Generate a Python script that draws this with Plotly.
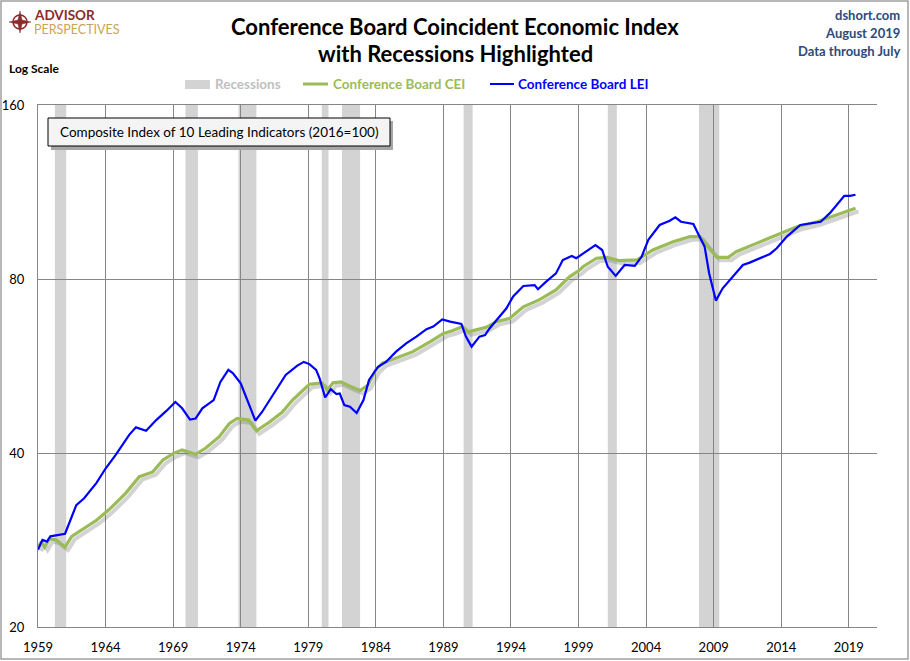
import plotly.graph_objects as go

# Canvas / plot-area geometry in pixels
W, H = 910, 661
L, R, T, B = 38, 33, 105, 34
PW, PH = W - L - R, H - T - B


def px(x):
    # pixel x -> paper x
    return (x - L) / PW


def py(y):
    # pixel y -> paper y
    return (H - B - y) / PH


# Conference Board Leading Economic Index (2016=100)
lei_dates = [
    "1959-01", "1959-05", "1959-09", "1959-12", "1961-01", "1961-05", "1961-11",
    "1962-06", "1963-05", "1964-01", "1964-10", "1965-10", "1966-04", "1967-01",
    "1967-10", "1968-07", "1969-03", "1969-09", "1970-04", "1970-09", "1971-03",
    "1972-01", "1972-07", "1973-02", "1973-06", "1974-01", "1974-07", "1975-02",
    "1975-08", "1976-03", "1976-10", "1977-05", "1978-03", "1978-09", "1979-02",
    "1979-05", "1979-08", "1979-11", "1980-04", "1980-09", "1981-02", "1981-05",
    "1981-09", "1982-02", "1982-08", "1983-02", "1983-07", "1984-03", "1984-10",
    "1985-07", "1986-04", "1987-01", "1987-10", "1988-04", "1988-12", "1989-07",
    "1990-05", "1990-09", "1991-02", "1991-09", "1992-02", "1992-06", "1992-12",
    "1993-09", "1994-03", "1994-12", "1995-10", "1996-01", "1996-08", "1997-05",
    "1997-11", "1998-07", "1998-11", "1999-08", "2000-04", "2000-10", "2001-03",
    "2001-10", "2002-06", "2003-03", "2003-09", "2004-03", "2005-01", "2005-10",
    "2006-03", "2006-08", "2007-07", "2007-11", "2008-05", "2008-09", "2009-03",
    "2009-09", "2010-06", "2011-03", "2011-09", "2012-07", "2013-03", "2013-09",
    "2014-06", "2015-06", "2016-03", "2016-12", "2017-08", "2018-02", "2018-09",
    "2019-02", "2019-07",
]
lei_values = [
    27.2, 28.3, 28.1, 28.7, 29.0, 30.4, 32.5,
    33.4, 35.5, 37.6, 39.7, 43.0, 44.3, 43.7,
    45.6, 47.3, 49.0, 47.8, 45.7, 45.9, 47.8,
    49.4, 53.1, 55.7, 55.0, 52.8, 49.4, 45.5,
    47.1, 49.4, 52.1, 54.6, 56.6, 57.5, 57.0,
    56.4, 55.7, 53.9, 49.9, 51.6, 50.6, 50.7,
    48.4, 48.1, 46.9, 49.4, 53.5, 56.4, 57.5,
    59.9, 61.9, 63.6, 65.5, 66.2, 68.1, 67.5,
    66.9, 63.6, 61.1, 63.6, 64.0, 65.7, 67.9,
    71.2, 74.6, 77.8, 78.1, 76.8, 79.1, 81.8,
    86.3, 87.7, 86.9, 89.2, 91.6, 89.8, 84.0,
    81.0, 84.6, 84.3, 87.4, 93.5, 99.2, 100.9,
    102.3, 100.5, 99.6, 96.0, 91.0, 81.8, 73.4,
    77.1, 80.7, 84.6, 85.4, 87.2, 88.4, 90.4,
    94.7, 99.2, 99.9, 100.5, 103.9, 107.4, 111.4,
    111.4, 111.9,
]

# Conference Board Coincident Economic Index
cei_dates = [
    "1959-01", "1959-04", "1959-07", "1959-11", "1960-05", "1961-01", "1961-07",
    "1962-05", "1963-05", "1964-04", "1965-07", "1966-07", "1967-07", "1968-04",
    "1969-01", "1969-09", "1970-09", "1971-06", "1972-06", "1973-03", "1973-10",
    "1974-08", "1975-03", "1976-03", "1977-02", "1977-11", "1979-02", "1980-01",
    "1980-06", "1980-11", "1981-06", "1982-02", "1982-11", "1983-06", "1984-01",
    "1984-07", "1985-07", "1986-10", "1988-01", "1989-01", "1989-09", "1990-06",
    "1990-11", "1991-06", "1992-03", "1992-12", "1993-12", "1994-12", "1996-02",
    "1997-05", "1998-05", "1999-02", "1999-05", "2000-05", "2001-02", "2002-01",
    "2003-05", "2004-07", "2006-01", "2007-04", "2008-01", "2008-08", "2009-04",
    "2010-02", "2010-09", "2012-03", "2013-09", "2015-03", "2016-09", "2018-02",
    "2019-07",
]
cei_values = [
    27.4, 28.1, 27.5, 28.4, 28.3, 27.5, 28.7,
    29.5, 30.6, 31.9, 34.1, 36.4, 37.1, 38.9,
    39.9, 40.5, 39.8, 40.8, 42.7, 45.0, 45.9,
    45.6, 43.7, 45.3, 47.1, 49.4, 52.6, 52.9,
    51.4, 52.9, 53.1, 52.2, 51.3, 52.4, 55.7,
    57.2, 58.3, 59.9, 62.3, 64.4, 65.1, 66.2,
    64.8, 65.3, 66.0, 67.5, 68.4, 71.6, 73.6,
    76.6, 80.7, 82.9, 84.0, 86.9, 87.2, 86.1,
    86.3, 89.8, 92.8, 94.7, 94.7, 91.0, 87.2,
    87.2, 89.2, 92.2, 95.3, 98.5, 100.5, 103.2,
    106.0,
]

# NBER recessions
rec_start = ["1960-04-01", "1969-12-01", "1973-11-01", "1980-01-01",
             "1981-07-01", "1990-07-01", "2001-03-01", "2007-12-01"]
rec_end = ["1961-02-01", "1970-11-01", "1975-03-01", "1980-07-01",
           "1982-11-01", "1991-03-01", "2001-11-01", "2009-06-01"]

y_ticks = [20, 40, 80, 160]

CEI_COLOR = "#9BBB59"
LEI_COLOR = "#0000FF"
REC_COLOR = "#D3D3D3"
GRID = "#868686"
FONT = "Lato"

X_RANGE = ["1959-01-01", "2021-02-01"]
Y_RANGE = [1.30103, 2.20412]
# axis ranges nudged so the same CEI line lands ~3px right/down (drop shadow)
X_SHADOW = ["1958-10-12", "2020-11-13"]
Y_SHADOW = [1.30622, 2.20931]

fig = go.Figure()

# shadow of the CEI line on a hidden, slightly shifted overlay axis pair
fig.add_trace(go.Scatter(
    x=cei_dates, y=cei_values, mode="lines", xaxis="x2", yaxis="y2",
    line=dict(color="rgba(110,110,110,0.30)", width=4), hoverinfo="skip",
))
fig.add_trace(go.Scatter(
    x=cei_dates, y=cei_values, mode="lines", xaxis="x3", yaxis="y3",
    line=dict(color=CEI_COLOR, width=3.2), name="Conference Board CEI",
))
fig.add_trace(go.Scatter(
    x=lei_dates, y=lei_values, mode="lines", xaxis="x3", yaxis="y3",
    line=dict(color=LEI_COLOR, width=2.2), name="Conference Board LEI",
))

# recession bands
for s, e in zip(rec_start, rec_end):
    fig.add_shape(type="rect", xref="x", yref="paper", x0=s, x1=e, y0=0, y1=1,
                  fillcolor=REC_COLOR, line_width=0, layer="below")

# outer frame of the image
fig.add_shape(type="rect", xref="paper", yref="paper",
              x0=px(1), x1=px(908), y0=py(659), y1=py(1),
              line=dict(color="#A0A0A0", width=1.5), fillcolor="rgba(0,0,0,0)")


def label(x, y, text, size=13, color="black", anchor="left"):
    fig.add_annotation(xref="paper", yref="paper", x=px(x), y=py(y),
                       xanchor=anchor, yanchor="middle", text=text, showarrow=False,
                       font=dict(family=FONT, size=size, color=color))


# note box with shadow
fig.add_shape(type="rect", xref="paper", yref="paper",
              x0=px(51), x1=px(393), y0=py(150), y1=py(121),
              fillcolor="#A6A6A6", line_width=0, layer="above")
fig.add_shape(type="rect", xref="paper", yref="paper",
              x0=px(48), x1=px(390), y0=py(146), y1=py(118),
              fillcolor="#F4F4F4", line=dict(color="black", width=1), layer="above")
label(219, 132, "Composite Index of 10 Leading Indicators (2016=100)", 13.5, anchor="center")

# custom legend
fig.add_shape(type="rect", xref="paper", yref="paper",
              x0=px(185), x1=px(210), y0=py(89), y1=py(80),
              fillcolor=REC_COLOR, line_width=0)
label(213, 84, "<b>Recessions</b>", 13.5, "#BFBFBF")
fig.add_shape(type="line", xref="paper", yref="paper",
              x0=px(303), x1=px(328), y0=py(84), y1=py(84),
              line=dict(color=CEI_COLOR, width=3))
label(331, 84, "<b>Conference Board CEI</b>", 13.5, CEI_COLOR)
fig.add_shape(type="line", xref="paper", yref="paper",
              x0=px(490), x1=px(514), y0=py(84), y1=py(84),
              line=dict(color=LEI_COLOR, width=2))
label(516, 84, "<b>Conference Board LEI</b>", 13.5, LEI_COLOR)

# title
label(455, 26, "<b>Conference Board Coincident Economic Index</b>", 22, anchor="center")
label(455, 53, "<b>with Recessions Highlighted</b>", 22, anchor="center")

# top-right credits
for i, txt in enumerate(["dshort.com", "August 2019", "Data through July"]):
    label(902, 15 + 18 * i, "<b>" + txt + "</b>", 13, "#2E4A7A", anchor="right")

label(7, 68, "<b>Log Scale</b>", 12)

# logo
fig.add_shape(type="circle", xref="paper", yref="paper",
              x0=px(13), x1=px(27), y0=py(29), y1=py(15),
              line=dict(color="#8B2A2A", width=1.5))
star = "M {},{} L {},{} L {},{} L {},{} L {},{} L {},{} L {},{} L {},{} Z".format(
    px(20), py(11), px(22), py(20), px(31), py(22), px(22), py(24),
    px(20), py(33), px(18), py(24), px(9), py(22), px(18), py(20))
fig.add_shape(type="path", xref="paper", yref="paper", path=star,
              fillcolor="#8B2A2A", line=dict(color="#8B2A2A", width=0.5))
label(32, 15, "<b>ADVISOR</b>", 13.5, "#8B2A2A")
label(32, 29.5, "PERSPECTIVES", 12.5, "#C8A45A")

fig.update_layout(
    width=W, height=H,
    margin=dict(l=L, r=R, t=T, b=B, pad=0, autoexpand=False),
    paper_bgcolor="white", plot_bgcolor="white",
    showlegend=False,
    font=dict(family=FONT, size=13, color="black"),
    xaxis2=dict(type="date", range=X_SHADOW, overlaying="x", visible=False),
    yaxis2=dict(type="log", range=Y_SHADOW, overlaying="y", visible=False),
    xaxis3=dict(type="date", range=X_RANGE, overlaying="x", visible=False),
    yaxis3=dict(type="log", range=Y_RANGE, overlaying="y", visible=False),
)
fig.update_layout(
    xaxis=dict(
        type="date", range=X_RANGE,
        tick0="1959-01-01", dtick="M60", tickformat="%Y",
        showgrid=True, gridcolor=GRID, gridwidth=1,
        showline=True, linecolor=GRID, linewidth=1, mirror=True,
        ticks="", ticklabelstandoff=8, zeroline=False, automargin=False,
        tickfont=dict(family=FONT, size=13),
    ),
    yaxis=dict(
        type="log", range=Y_RANGE,
        tickvals=y_ticks, ticktext=[str(v) for v in y_ticks],
        showgrid=True, gridcolor=GRID, gridwidth=1,
        showline=True, linecolor=GRID, linewidth=1,
        ticks="", ticklabelstandoff=10, zeroline=False, automargin=False,
        tickfont=dict(family=FONT, size=13),
    ),
)

fig.write_html("out.html", config={"displayModeBar": False},
               post_script="document.body.style.margin='0px';")
